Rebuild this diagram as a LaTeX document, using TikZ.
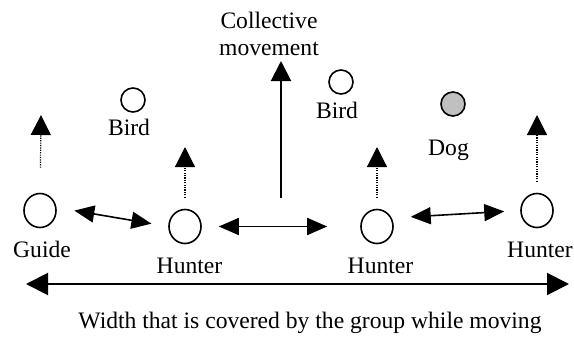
\documentclass[tikz,border=0pt]{standalone}
\usepackage{fontspec}
\setmainfont{Liberation Serif}
\usepackage{xcolor}
\usepackage{tikz}
\usetikzlibrary{arrows.meta, shapes.geometric}
\definecolor{dogfill}{RGB}{192,192,192}
\tikzstyle{arrow} = [-{Triangle[length=10pt,width=10pt]}, line width=1pt]
\tikzstyle{dotarrow} = [-{Triangle[length=10pt,width=10pt]}, line width=0.6pt, dash pattern=on 0.6pt off 0.6pt]
\tikzstyle{twoway} = [{Triangle[length=10pt,width=8.5pt]}-{Triangle[length=10pt,width=8.5pt]}, line width=0.8pt]
\tikzstyle{wide} = [{Triangle[length=11pt,width=11pt]}-{Triangle[length=11pt,width=11pt]}, line width=1pt]
\tikzstyle{person} = [ellipse, draw, line width=0.8pt, minimum width=16pt, minimum height=17pt, inner sep=0pt]
\tikzstyle{animal} = [circle, draw, line width=0.8pt, minimum size=12pt, inner sep=0pt]

\begin{document}
\begin{tikzpicture}[x=0.5pt, y=-0.5pt, every node/.style={font=\fontsize{11.8}{13.5}\selectfont}]
		\useasboundingbox (0,0) rectangle (574,338);

		% the group
		\node[person] (guide) at (40,210.5) {};
		\node[person] (hunterA) at (185,226.5) {};
		\node[person] (hunterB) at (377,226.5) {};
		\node[person] (hunterC) at (537,210.5) {};
		\node[anchor=base] (guidelbl) at (42,257) {Guide};
		\node[anchor=base] (hunterAlbl) at (189.5,273) {Hunter};
		\node[anchor=base] (hunterBlbl) at (380.5,273) {Hunter};
		\node[anchor=base] (hunterClbl) at (540,257) {Hunter};

		% birds and dog
		\node[animal] (birdA) at (133,100) {};
		\node[animal] (birdB) at (341,82) {};
		\node[animal, fill=dogfill] (dog) at (453,104) {};
		\node[anchor=base] (birdAlbl) at (129,135) {Bird};
		\node[anchor=base] (birdBlbl) at (337,118) {Bird};
		\node[anchor=base] (doglbl) at (448.5,155) {Dog};

		\node[align=center] (collective) at (269,34) {Collective\\movement};

		\coordinate (guidetip) at (41,115);
		\coordinate (hunterAtip) at (185,147);
		\coordinate (hunterBtip) at (377,147);
		\coordinate (hunterCtip) at (537,115);
		\coordinate (colbase) at (281,198);
		\coordinate (coltip) at (281,61);
		\coordinate (wl) at (26,284);
		\coordinate (wr) at (569,284);

		\draw [dotarrow, shorten <=12.5pt] (guide) -- (guidetip);
		\draw [dotarrow, shorten <=5.5pt] (hunterA) -- (hunterAtip);
		\draw [dotarrow, shorten <=5.5pt] (hunterB) -- (hunterBtip);
		\draw [dotarrow, shorten <=5.5pt] (hunterC) -- (hunterCtip);
		\draw [arrow] (colbase) -- (coltip);

		\draw [twoway, shorten <=9pt, shorten >=8.5pt] (guide.10) -- (hunterA.west);
		\draw [twoway, shorten <=8.5pt, shorten >=16.5pt] (hunterA.east) -- (hunterB.west);
		\draw [twoway, shorten <=9.5pt, shorten >=8pt] (hunterB.30) -- (hunterC.west);

		\draw [wide] (wl) -- (wr);
		\node[anchor=base] (widthlbl) at (310,328) {Width that is covered by the group while moving};
	\end{tikzpicture}
\end{document}
